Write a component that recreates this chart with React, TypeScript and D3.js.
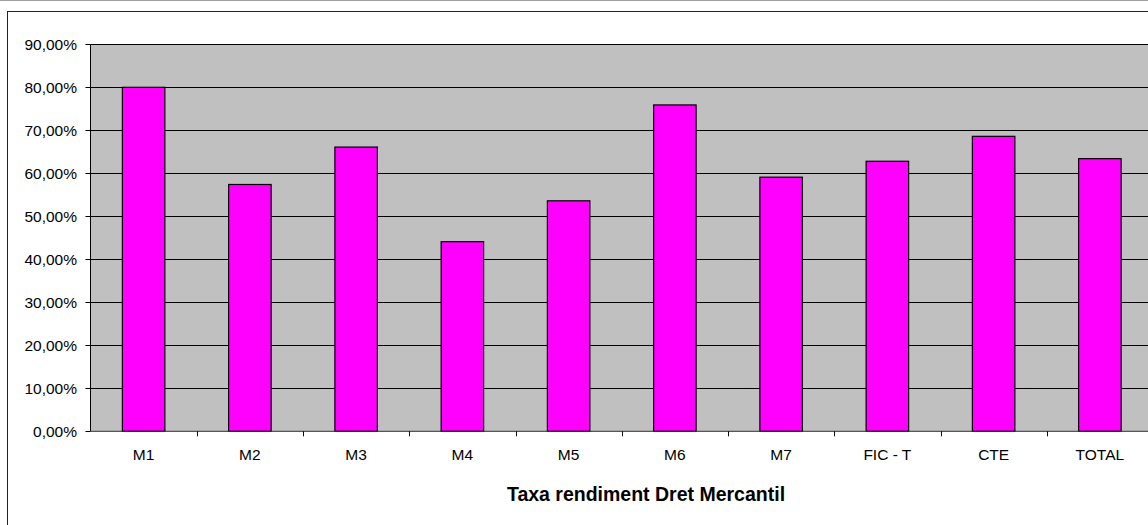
import React from "react";
import * as d3 from "d3";

const categories = ["M1", "M2", "M3", "M4", "M5", "M6", "M7", "FIC - T", "CTE", "TOTAL"];
const values = [80.0, 57.4, 66.1, 44.1, 53.6, 75.9, 59.1, 62.8, 68.6, 63.4];
const yTicks = [0, 10, 20, 30, 40, 50, 60, 70, 80, 90];
const title = "Taxa rendiment Dret Mercantil";

const W = 1148;
const H = 525;
const plotLeft = 90.5;
const plotTop = 44.3;
const plotBottom = 431.3;
const step = 106.25;
const plotRight = plotLeft + step * categories.length;

const font = "'Liberation Sans', Arial, Helvetica, sans-serif";

export default function App() {
  const x = d3
    .scaleBand<string>()
    .domain(categories)
    .range([plotLeft, plotRight])
    .paddingInner(0.6)
    .paddingOuter(0.3);
  const y = d3.scaleLinear().domain([0, 90]).range([plotBottom, plotTop]);
  const fmt = (v: number) => v.toFixed(2).replace(".", ",") + "%";
  const bandX = d3.scaleLinear().domain([0, categories.length]).range([plotLeft, plotRight]);
  const boundaries = d3.range(1, categories.length + 1);

  return (
    <svg
      width={W}
      height={H}
      style={{ position: "absolute", left: 0, top: 0, background: "#fff" }}
      fontFamily={font}
    >
      <line x1={0} x2={W} y1={0.5} y2={0.5} stroke="#a0a0a0" strokeWidth={1} />
      <rect x={7.5} y={11.5} width={W + 20} height={H + 20} fill="#fff" stroke="#222" strokeWidth={1} />
      <rect x={plotLeft} y={plotTop} width={plotRight - plotLeft} height={plotBottom - plotTop} fill="#c0c0c0" />
      {yTicks.filter((t) => t > 0).map((t) => (
        <line
          key={"g" + t}
          x1={plotLeft}
          x2={plotRight}
          y1={Math.round(y(t)) + 0.5}
          y2={Math.round(y(t)) + 0.5}
          stroke="#000"
          strokeWidth={1}
        />
      ))}
      {categories.map((c, i) => (
        <rect
          key={c}
          x={x(c)!}
          y={y(values[i])}
          width={x.bandwidth()}
          height={plotBottom - y(values[i])}
          fill="#ff00ff"
          stroke="#000"
          strokeWidth={1.2}
        />
      ))}
      <line x1={plotLeft} x2={plotLeft} y1={plotTop} y2={plotBottom} stroke="#000" strokeWidth={1} />
      <line x1={plotLeft} x2={plotRight} y1={plotBottom} y2={plotBottom} stroke="#333" strokeWidth={1} />
      {yTicks.map((t) => (
        <g key={"t" + t}>
          <line x1={plotLeft - 5} x2={plotLeft} y1={Math.round(y(t)) + 0.5} y2={Math.round(y(t)) + 0.5} stroke="#000" />
          <text x={77} y={y(t)} dy="0.36em" textAnchor="end" fontSize={15.5} fill="#000">
            {fmt(t)}
          </text>
        </g>
      ))}
      {boundaries.map((b) => (
        <line
          key={"xb" + b}
          x1={Math.round(bandX(b)) + 0.5}
          x2={Math.round(bandX(b)) + 0.5}
          y1={plotBottom}
          y2={plotBottom + 5}
          stroke="#000"
        />
      ))}
      {categories.map((c) => (
        <text key={"l" + c} x={x(c)! + x.bandwidth() / 2} y={460} textAnchor="middle" fontSize={15.5} fill="#000">
          {c}
        </text>
      ))}
      <text x={646} y={500.5} textAnchor="middle" fontSize={19.5} fontWeight="bold" fill="#000">
        {title}
      </text>
    </svg>
  );
}
